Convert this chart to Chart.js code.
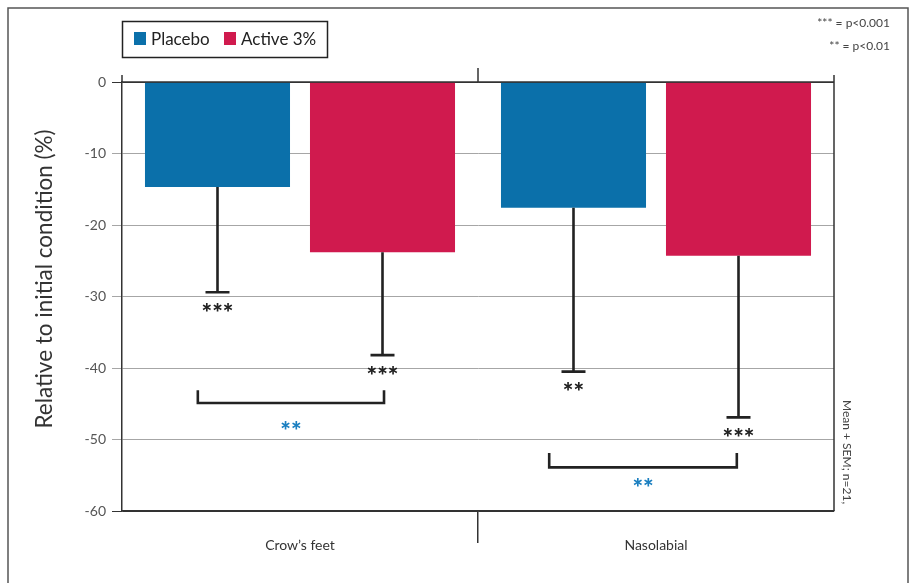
<!DOCTYPE html>
<html>
<head>
<meta charset="utf-8">
<script src="https://cdn.jsdelivr.net/npm/chart.js@4.4.1/dist/chart.umd.min.js"></script>
<style>
  html, body { margin: 0; padding: 0; background: #fff; }
  #wrap { width: 915px; height: 583px; }
</style>
</head>
<body>
<div id="wrap"><canvas id="chart" width="915" height="583"></canvas></div>
<script>
// data
const categories = ['Crow’s feet', 'Nasolabial'];
const placebo = [-14.7, -17.6];
const active = [-23.8, -24.3];
const placeboSem = [14.7, 22.9];
const activeSem = [14.4, 22.6];
const placeboStars = ['***', '**'];
const activeStars = ['***', '***'];
const yTicks = [0, -10, -20, -30, -40, -50, -60];

// placebo vs active comparisons (x in category units from the group centre)
const bracketLeft = [-0.287, -0.30];
const bracketRight = [0.236, 0.227];
const bracketTop = [-43.1, -51.9];
const bracketBottom = [-44.9, -53.9];
const bracketLabelY = [-48, -56];
const bracketLabels = ['**', '**'];

const BLUE = '#0b70aa';
const RED = '#d01a4e';
const FONT = 'Lato';

function centredText(ctx, text, x, cy) {
  const m = ctx.measureText(text);
  ctx.fillText(text, x, cy + (m.actualBoundingBoxAscent - m.actualBoundingBoxDescent) / 2);
}

const extras = {
  id: 'extras',
  afterDraw(chart) {
    const { ctx, chartArea: a, scales: { x, y } } = chart;
    ctx.save();

    // outer frame
    ctx.strokeStyle = '#555';
    ctx.lineWidth = 1.5;
    ctx.strokeRect(8, 8, 900, 600);

    // box lines round the plot
    ctx.strokeStyle = '#333';
    ctx.lineWidth = 1.5;
    ctx.beginPath();
    ctx.moveTo(a.left, a.top - 7); ctx.lineTo(a.left, a.top);
    ctx.moveTo(a.right, a.top - 7); ctx.lineTo(a.right, a.bottom);
    ctx.moveTo(a.left, a.top); ctx.lineTo(a.right, a.top);
    const mid = x.getPixelForValue(0.5);
    ctx.moveTo(mid, a.top - 14); ctx.lineTo(mid, a.top);
    ctx.stroke();

    // error bars + stars
    const sets = [[placebo, placeboSem, placeboStars], [active, activeSem, activeStars]];
    sets.forEach(([vals, sem, stars], d) => {
      chart.getDatasetMeta(d).data.forEach((bar, i) => {
        const y0 = y.getPixelForValue(vals[i]);
        const y1 = y.getPixelForValue(vals[i] - sem[i]);
        ctx.strokeStyle = '#222';
        ctx.lineWidth = 2.6;
        ctx.beginPath();
        ctx.moveTo(bar.x, y0); ctx.lineTo(bar.x, y1);
        ctx.moveTo(bar.x - 12, y1); ctx.lineTo(bar.x + 12, y1);
        ctx.stroke();
        ctx.fillStyle = '#222';
        ctx.font = `900 25px ${FONT}`;
        ctx.textAlign = 'center';
        centredText(ctx, stars[i], bar.x, y1 + 15);
      });
    });

    // comparison brackets
    categories.forEach((c, i) => {
      const xl = x.getPixelForValue(i + bracketLeft[i]);
      const xr = x.getPixelForValue(i + bracketRight[i]);
      const yt = y.getPixelForValue(bracketTop[i]);
      const yb = y.getPixelForValue(bracketBottom[i]);
      ctx.strokeStyle = '#222';
      ctx.lineWidth = 2.6;
      ctx.beginPath();
      ctx.moveTo(xl, yt); ctx.lineTo(xl, yb); ctx.lineTo(xr, yb); ctx.lineTo(xr, yt);
      ctx.stroke();
      ctx.fillStyle = '#1b7fc0';
      ctx.font = `900 25px ${FONT}`;
      ctx.textAlign = 'center';
      centredText(ctx, bracketLabels[i], (xl + xr) / 2, y.getPixelForValue(bracketLabelY[i]));
    });

    // legend
    ctx.strokeStyle = '#222';
    ctx.lineWidth = 1.5;
    ctx.strokeRect(122.5, 21.5, 205, 36);
    ctx.font = `17px ${FONT}`;
    ctx.textAlign = 'left';
    ctx.textBaseline = 'middle';
    ctx.fillStyle = BLUE; ctx.fillRect(134, 32, 12, 13);
    ctx.fillStyle = '#222'; ctx.fillText('Placebo', 151, 39.5);
    ctx.fillStyle = RED; ctx.fillRect(224, 32, 12, 13);
    ctx.fillStyle = '#222'; ctx.fillText('Active 3%', 241, 39.5);

    // notes
    ctx.fillStyle = '#444';
    ctx.font = `12px ${FONT}`;
    ctx.textAlign = 'right';
    ctx.fillText('*** = p<0.001', 890, 23);
    ctx.fillText('** = p<0.01', 890, 46);

    ctx.save();
    ctx.translate(847, 400);
    ctx.rotate(Math.PI / 2);
    ctx.textAlign = 'left';
    ctx.fillText('Mean + SEM; n=21,', 0, 0);
    ctx.restore();

    // y title
    ctx.save();
    ctx.translate(45, 279);
    ctx.rotate(-Math.PI / 2);
    ctx.textAlign = 'center';
    ctx.fillStyle = '#333';
    ctx.font = `22.5px ${FONT}`;
    ctx.fillText('Relative to initial condition (%)', 0, 0);
    ctx.restore();

    ctx.restore();
  }
};

new Chart(document.getElementById('chart'), {
  type: 'bar',
  data: {
    labels: categories,
    datasets: [
      { label: 'Placebo', data: placebo, backgroundColor: BLUE, categoryPercentage: 0.927, barPercentage: 0.879 },
      { label: 'Active 3%', data: active, backgroundColor: RED, categoryPercentage: 0.927, barPercentage: 0.879 }
    ]
  },
  options: {
    responsive: false,
    animation: false,
    layout: { padding: { top: 82, right: 81, left: 0, bottom: 0 } },
    plugins: { legend: { display: false }, tooltip: { enabled: false } },
    scales: {
      x: {
        grid: {
          offset: true,
          drawOnChartArea: false,
          tickLength: 32,
          lineWidth: 1.5,
          color: c => c.index === 1 ? '#333' : 'rgba(0,0,0,0)'
        },
        border: { color: '#333', width: 1.5 },
        ticks: { color: '#333', font: { family: FONT, size: 14 }, padding: -6 },
        afterFit: s => { s.height = 72; }
      },
      y: {
        min: -60,
        max: 0,
        afterBuildTicks: s => { s.ticks = yTicks.map(v => ({ value: v })); },
        grid: {
          tickLength: 10,
          color: c => (c.tick && (c.tick.value === 0 || c.tick.value === -60)) ? '#333' : '#a6a6a6'
        },
        border: { color: '#333', width: 1.5 },
        ticks: { color: '#555', font: { family: FONT, size: 14 }, padding: 6 },
        afterFit: s => { s.width = 122; }
      }
    }
  },
  plugins: [extras]
});
</script>
</body>
</html>
